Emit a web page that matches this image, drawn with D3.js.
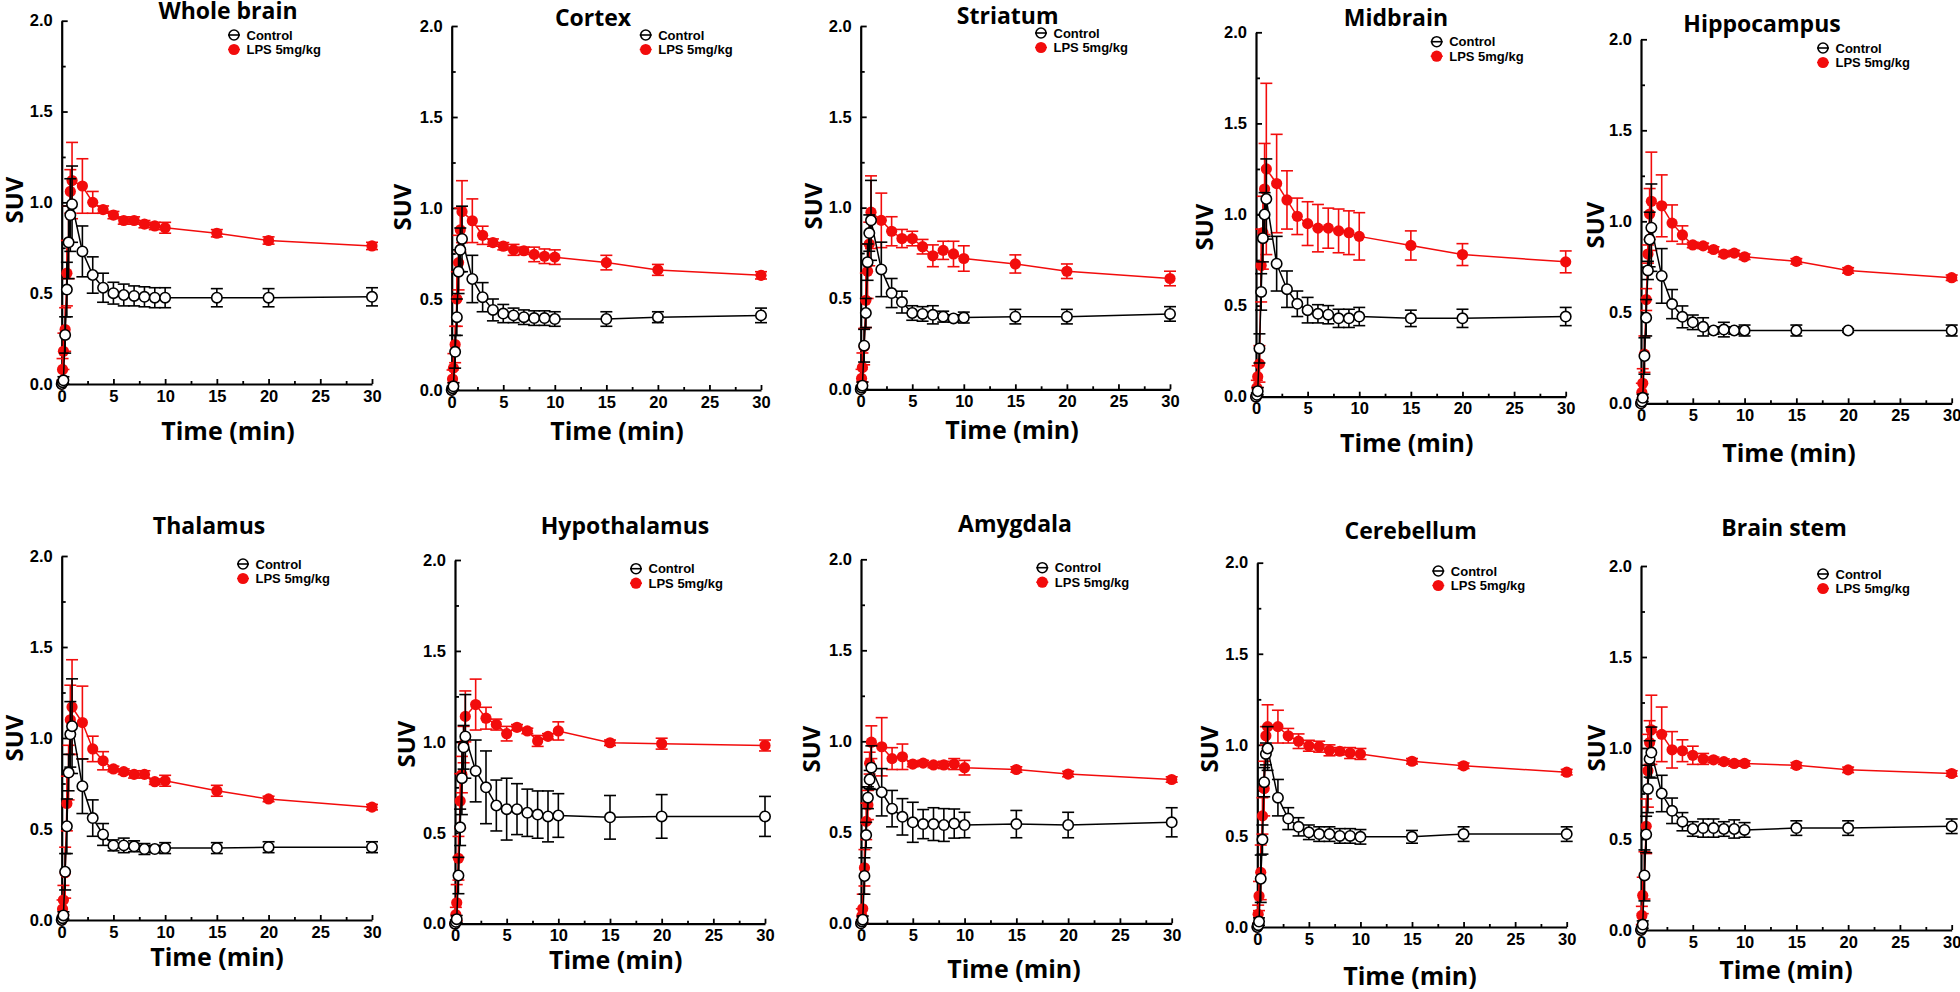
<!DOCTYPE html>
<html>
<head>
<meta charset="utf-8">
<script src="https://cdnjs.cloudflare.com/ajax/libs/d3/7.8.5/d3.min.js"></script>
<style>
body { margin: 0; background: #fff; }
svg { display: block; }
.tick text { font-family: "Liberation Sans", Arial, sans-serif; font-weight: bold; font-size: 16.5px; fill: #000; }
</style>
</head>
<body>
<svg id="fig" width="1960" height="992"></svg>
<script>

// sampling times (min)
var times = [0, 0.083, 0.167, 0.333, 0.5, 0.667, 0.833, 1, 2, 3, 4, 5, 6, 7, 8, 9, 10, 15, 20, 30];

var regions = ["Whole brain", "Cortex", "Striatum", "Midbrain", "Hippocampus",
	"Thalamus", "Hypothalamus", "Amygdala", "Cerebellum", "Brain stem"];

var xTicks = [0, 5, 10, 15, 20, 25, 30];
var xMinor = [2.5, 7.5, 12.5, 17.5, 22.5, 27.5];
var yTicks = [0, 0.5, 1.0, 1.5, 2.0];
var yMinor = [0.25, 0.75, 1.25, 1.75];

var seriesNames = ["Control", "LPS 5mg/kg"];

// mean SUV and SD
var wholeBrainCtrl   = [0, 0.01, 0.02, 0.27, 0.52, 0.78, 0.93, 0.99, 0.73, 0.60, 0.53, 0.50, 0.49, 0.485, 0.48, 0.475, 0.475, 0.475, 0.475, 0.48];
var wholeBrainCtrlSd = [0, 0.01, 0.02, 0.10, 0.15, 0.20, 0.20, 0.21, 0.14, 0.10, 0.08, 0.06, 0.06, 0.055, 0.055, 0.055, 0.055, 0.05, 0.05, 0.05];
var wholeBrainLps    = [0, 0.08, 0.18, 0.30, 0.61, 0.78, 1.06, 1.12, 1.09, 1.00, 0.96, 0.93, 0.90, 0.90, 0.88, 0.87, 0.86, 0.83, 0.79, 0.76];
var wholeBrainLpsSd  = [0, 0.06, 0.10, 0.12, 0.18, 0.20, 0.12, 0.21, 0.15, 0.06, 0.02, 0.02, 0.02, 0.02, 0.02, 0.02, 0.03, 0.02, 0.02, 0.02];

var cortexCtrl   = [0, 0.01, 0.02, 0.21, 0.40, 0.65, 0.77, 0.83, 0.61, 0.51, 0.44, 0.42, 0.41, 0.40, 0.395, 0.395, 0.39, 0.39, 0.40, 0.41];
var cortexCtrlSd = [0, 0.01, 0.02, 0.09, 0.10, 0.12, 0.12, 0.18, 0.13, 0.08, 0.06, 0.05, 0.04, 0.04, 0.04, 0.04, 0.04, 0.04, 0.03, 0.04];
var cortexLps    = [0, 0.06, 0.12, 0.25, 0.50, 0.70, 0.88, 0.98, 0.93, 0.85, 0.81, 0.79, 0.77, 0.765, 0.745, 0.735, 0.73, 0.70, 0.66, 0.63];
var cortexLpsSd  = [0, 0.05, 0.08, 0.10, 0.15, 0.15, 0.12, 0.17, 0.12, 0.05, 0.02, 0.02, 0.03, 0.02, 0.04, 0.04, 0.04, 0.04, 0.03, 0.02];

var striatumCtrl   = [0, 0.01, 0.02, 0.24, 0.42, 0.70, 0.86, 0.93, 0.66, 0.53, 0.48, 0.42, 0.415, 0.41, 0.40, 0.39, 0.395, 0.40, 0.40, 0.415];
var striatumCtrlSd = [0, 0.01, 0.02, 0.09, 0.08, 0.10, 0.10, 0.22, 0.15, 0.08, 0.06, 0.04, 0.04, 0.05, 0.03, 0.02, 0.03, 0.04, 0.04, 0.04];
var striatumLps    = [0, 0.06, 0.12, 0.235, 0.49, 0.65, 0.80, 0.975, 0.93, 0.87, 0.83, 0.83, 0.785, 0.735, 0.765, 0.745, 0.72, 0.69, 0.65, 0.61];
var striatumLpsSd  = [0, 0.05, 0.08, 0.10, 0.15, 0.15, 0.12, 0.20, 0.15, 0.08, 0.05, 0.04, 0.04, 0.06, 0.05, 0.07, 0.07, 0.05, 0.04, 0.04];

var midbrainCtrl   = [0, 0.01, 0.03, 0.265, 0.575, 0.87, 1.00, 1.085, 0.73, 0.59, 0.51, 0.475, 0.455, 0.45, 0.43, 0.43, 0.44, 0.43, 0.43, 0.44];
var midbrainCtrlSd = [0, 0.01, 0.02, 0.08, 0.10, 0.13, 0.12, 0.22, 0.15, 0.10, 0.07, 0.07, 0.05, 0.05, 0.05, 0.05, 0.05, 0.045, 0.05, 0.05];
var midbrainLps    = [0, 0.05, 0.11, 0.18, 0.72, 0.90, 1.14, 1.25, 1.17, 1.08, 0.99, 0.95, 0.925, 0.925, 0.91, 0.90, 0.88, 0.83, 0.78, 0.74];
var midbrainLpsSd  = [0, 0.04, 0.06, 0.10, 0.20, 0.20, 0.25, 0.47, 0.27, 0.16, 0.10, 0.12, 0.13, 0.11, 0.12, 0.12, 0.13, 0.08, 0.06, 0.06];

var hippocampusCtrl   = [0, 0.01, 0.03, 0.26, 0.47, 0.73, 0.90, 0.965, 0.70, 0.545, 0.475, 0.445, 0.42, 0.40, 0.405, 0.40, 0.40, 0.40, 0.40, 0.40];
var hippocampusCtrlSd = [0, 0.01, 0.02, 0.10, 0.10, 0.05, 0.15, 0.24, 0.15, 0.08, 0.06, 0.04, 0.05, 0.02, 0.04, 0.02, 0.03, 0.03, 0.01, 0.03];
var hippocampusLps    = [0, 0.06, 0.11, 0.27, 0.57, 0.82, 1.04, 1.11, 1.085, 0.99, 0.925, 0.87, 0.865, 0.845, 0.82, 0.825, 0.805, 0.78, 0.73, 0.69];
var hippocampusLpsSd  = [0, 0.05, 0.08, 0.10, 0.06, 0.05, 0.14, 0.27, 0.17, 0.10, 0.05, 0.015, 0.015, 0.015, 0.015, 0.015, 0.015, 0.015, 0.015, 0.015];

var thalamusCtrl   = [0, 0.01, 0.025, 0.265, 0.515, 0.81, 1.02, 1.065, 0.735, 0.56, 0.47, 0.41, 0.41, 0.405, 0.39, 0.39, 0.395, 0.395, 0.40, 0.40];
var thalamusCtrlSd = [0, 0.01, 0.02, 0.10, 0.15, 0.10, 0.18, 0.26, 0.15, 0.10, 0.06, 0.03, 0.04, 0.03, 0.03, 0.02, 0.03, 0.03, 0.03, 0.03];
var thalamusLps    = [0, 0.06, 0.11, 0.26, 0.64, 0.81, 1.10, 1.17, 1.085, 0.94, 0.875, 0.83, 0.815, 0.80, 0.80, 0.76, 0.765, 0.71, 0.665, 0.62];
var thalamusLpsSd  = [0, 0.05, 0.08, 0.14, 0.15, 0.15, 0.19, 0.26, 0.20, 0.07, 0.05, 0.015, 0.015, 0.02, 0.02, 0.015, 0.03, 0.03, 0.015, 0.015];

var hypothalamusCtrl   = [0, 0.01, 0.025, 0.265, 0.53, 0.80, 0.97, 1.03, 0.84, 0.75, 0.65, 0.63, 0.63, 0.61, 0.60, 0.59, 0.595, 0.585, 0.59, 0.59];
var hypothalamusCtrlSd = [0, 0.01, 0.02, 0.10, 0.10, 0.20, 0.12, 0.23, 0.17, 0.20, 0.14, 0.17, 0.14, 0.13, 0.13, 0.14, 0.12, 0.12, 0.12, 0.11];
var hypothalamusLps    = [0, 0.05, 0.115, 0.36, 0.675, 0.82, 0.985, 1.14, 1.205, 1.13, 1.095, 1.045, 1.08, 1.06, 1.005, 1.03, 1.06, 0.995, 0.99, 0.98];
var hypothalamusLpsSd  = [0, 0.04, 0.10, 0.12, 0.15, 0.10, 0.10, 0.14, 0.14, 0.06, 0.03, 0.04, 0.015, 0.015, 0.03, 0.015, 0.05, 0.015, 0.03, 0.03];

var amygdalaCtrl   = [0, 0.01, 0.02, 0.26, 0.485, 0.69, 0.79, 0.855, 0.72, 0.63, 0.585, 0.555, 0.545, 0.545, 0.54, 0.548, 0.54, 0.545, 0.54, 0.555];
var amygdalaCtrlSd = [0, 0.01, 0.02, 0.10, 0.07, 0.06, 0.05, 0.12, 0.13, 0.10, 0.10, 0.11, 0.08, 0.09, 0.09, 0.08, 0.07, 0.075, 0.07, 0.08];
var amygdalaLps    = [0, 0.04, 0.08, 0.305, 0.56, 0.65, 0.88, 0.995, 0.97, 0.905, 0.915, 0.875, 0.88, 0.87, 0.87, 0.875, 0.855, 0.845, 0.82, 0.79];
var amygdalaLpsSd  = [0, 0.04, 0.08, 0.10, 0.10, 0.08, 0.06, 0.09, 0.16, 0.06, 0.07, 0.015, 0.015, 0.015, 0.02, 0.03, 0.04, 0.015, 0.015, 0.015];

var cerebellumCtrl   = [0, 0.01, 0.03, 0.265, 0.48, 0.795, 0.95, 0.98, 0.71, 0.595, 0.55, 0.52, 0.51, 0.51, 0.50, 0.50, 0.495, 0.495, 0.51, 0.51];
var cerebellumCtrlSd = [0, 0.01, 0.02, 0.13, 0.08, 0.08, 0.06, 0.12, 0.10, 0.06, 0.05, 0.04, 0.04, 0.04, 0.04, 0.04, 0.04, 0.035, 0.04, 0.04];
var cerebellumLps    = [0, 0.07, 0.17, 0.30, 0.61, 0.76, 1.05, 1.10, 1.10, 1.05, 1.02, 0.995, 0.99, 0.97, 0.965, 0.955, 0.95, 0.91, 0.885, 0.85];
var cerebellumLpsSd  = [0, 0.05, 0.08, 0.15, 0.10, 0.15, 0.05, 0.12, 0.09, 0.04, 0.04, 0.03, 0.03, 0.03, 0.02, 0.03, 0.03, 0.015, 0.015, 0.015];

var brainStemCtrl   = [0, 0.01, 0.03, 0.30, 0.525, 0.775, 0.94, 0.975, 0.75, 0.655, 0.595, 0.555, 0.56, 0.56, 0.555, 0.555, 0.55, 0.56, 0.56, 0.57];
var brainStemCtrlSd = [0, 0.01, 0.02, 0.14, 0.10, 0.13, 0.10, 0.14, 0.10, 0.07, 0.05, 0.04, 0.05, 0.05, 0.04, 0.05, 0.04, 0.04, 0.04, 0.04];
var brainStemLps    = [0, 0.08, 0.19, 0.30, 0.57, 0.875, 1.03, 1.10, 1.075, 0.99, 0.985, 0.96, 0.94, 0.935, 0.925, 0.915, 0.915, 0.905, 0.88, 0.86];
var brainStemLpsSd  = [0, 0.05, 0.10, 0.13, 0.15, 0.20, 0.12, 0.19, 0.15, 0.10, 0.06, 0.05, 0.03, 0.015, 0.015, 0.015, 0.015, 0.015, 0.015, 0.015];

var ctrlMeans = [wholeBrainCtrl, cortexCtrl, striatumCtrl, midbrainCtrl, hippocampusCtrl,
	thalamusCtrl, hypothalamusCtrl, amygdalaCtrl, cerebellumCtrl, brainStemCtrl];
var ctrlSds = [wholeBrainCtrlSd, cortexCtrlSd, striatumCtrlSd, midbrainCtrlSd, hippocampusCtrlSd,
	thalamusCtrlSd, hypothalamusCtrlSd, amygdalaCtrlSd, cerebellumCtrlSd, brainStemCtrlSd];
var lpsMeans = [wholeBrainLps, cortexLps, striatumLps, midbrainLps, hippocampusLps,
	thalamusLps, hypothalamusLps, amygdalaLps, cerebellumLps, brainStemLps];
var lpsSds = [wholeBrainLpsSd, cortexLpsSd, striatumLpsSd, midbrainLpsSd, hippocampusLpsSd,
	thalamusLpsSd, hypothalamusLpsSd, amygdalaLpsSd, cerebellumLpsSd, brainStemLpsSd];

// panel placement: plot box (left, right, top, bottom), title, legend, x label, y label
var panels = [
	{l: 61.7, r: 372, t: 20.7, b: 384, tx: 228, ty: 19, lx: 234, ly: 35, xx: 228, xy: 440, sx: 13.5, sy: 200},
	{l: 451.7, r: 761, t: 26, b: 390, tx: 593, ty: 26, lx: 645.7, ly: 35, xx: 617, xy: 440, sx: 401, sy: 207},
	{l: 860.7, r: 1170, t: 26, b: 389.3, tx: 1007.7, ty: 24, lx: 1041, ly: 33, xx: 1012, xy: 439.3, sx: 812, sy: 206},
	{l: 1256, r: 1565.7, t: 32.3, b: 396.7, tx: 1396, ty: 26, lx: 1436.7, ly: 41.7, xx: 1406.7, xy: 451.7, sx: 1203, sy: 227},
	{l: 1641, r: 1951.7, t: 39.3, b: 403.3, tx: 1762, ty: 31.7, lx: 1823, ly: 48, xx: 1789, xy: 461.7, sx: 1594, sy: 225},
	{l: 61.7, r: 372, t: 556, b: 920, tx: 209, ty: 534.3, lx: 243, ly: 564, xx: 217, xy: 966, sx: 13, sy: 738},
	{l: 455, r: 765, t: 560, b: 923.7, tx: 625, ty: 534, lx: 636, ly: 568.7, xx: 615.7, xy: 969.3, sx: 405, sy: 744},
	{l: 861, r: 1171.7, t: 559.3, b: 923.3, tx: 1015, ty: 532, lx: 1042.3, ly: 567.7, xx: 1014, xy: 977.7, sx: 810, sy: 749},
	{l: 1257.3, r: 1566.7, t: 562.7, b: 927, tx: 1410.7, ty: 538.7, lx: 1438.3, ly: 571, xx: 1410, xy: 985.3, sx: 1208, sy: 749},
	{l: 1641, r: 1951.7, t: 566, b: 930, tx: 1784, ty: 536, lx: 1823, ly: 574, xx: 1786, xy: 979.3, sx: 1595, sy: 748}
];

var red = "#f20c0c";
var labelFont = "'Open Sans', 'DejaVu Sans', sans-serif";
var legendFont = "'Liberation Sans', Arial, sans-serif";

var svg = d3.select("#fig");

function drawSeries(g, x, y, means, sds, color, open) {
	var pts = times.map(function(t, i) { return {t: t, v: means[i], e: sds[i]}; });

	var eb = g.append("g").attr("stroke", color).attr("stroke-width", 1.6).attr("fill", "none");
	pts.forEach(function(d) {
		if (d.e <= 0) return;
		var cx = x(d.t), y1 = y(d.v + d.e), y2 = y(d.v - d.e);
		eb.append("line").attr("x1", cx).attr("x2", cx).attr("y1", y1).attr("y2", y2);
		eb.append("line").attr("x1", cx - 6).attr("x2", cx + 6).attr("y1", y1).attr("y2", y1);
		eb.append("line").attr("x1", cx - 6).attr("x2", cx + 6).attr("y1", y2).attr("y2", y2);
	});

	g.append("path")
		.datum(pts)
		.attr("fill", "none")
		.attr("stroke", color)
		.attr("stroke-width", 1.5)
		.attr("d", d3.line().x(function(d) { return x(d.t); }).y(function(d) { return y(d.v); }));

	g.selectAll(null)
		.data(pts)
		.enter()
		.append("circle")
		.attr("cx", function(d) { return x(d.t); })
		.attr("cy", function(d) { return y(d.v); })
		.attr("r", open ? 5.2 : 5.6)
		.attr("fill", open ? "#fff" : color)
		.attr("stroke", color)
		.attr("stroke-width", open ? 1.6 : 0);
}

panels.forEach(function(p, k) {
	var x = d3.scaleLinear().domain([0, 30]).range([p.l, p.r]);
	var y = d3.scaleLinear().domain([0, 2]).range([p.b, p.t]);
	var g = svg.append("g");

	// axes with inward ticks
	g.append("g")
		.attr("transform", "translate(0," + p.b + ")")
		.call(d3.axisBottom(x).tickValues(xMinor).tickFormat("").tickSize(-3).tickSizeOuter(0))
		.call(function(a) { a.select(".domain").remove(); });
	g.append("g")
		.attr("transform", "translate(" + p.l + ",0)")
		.call(d3.axisLeft(y).tickValues(yMinor).tickFormat("").tickSize(-4).tickSizeOuter(0))
		.call(function(a) { a.select(".domain").remove(); });

	g.append("g")
		.attr("transform", "translate(0," + p.b + ")")
		.call(d3.axisBottom(x).tickValues(xTicks).tickFormat(d3.format("d")).tickSize(-5).tickSizeOuter(0).tickPadding(6));
	g.append("g")
		.attr("transform", "translate(" + p.l + ",0)")
		.call(d3.axisLeft(y).tickValues(yTicks).tickFormat(d3.format(".1f")).tickSize(-6).tickSizeOuter(0).tickPadding(9));

	g.selectAll(".domain").attr("stroke", "#000").attr("stroke-width", 2.2);
	g.selectAll(".tick line").attr("stroke", "#000").attr("stroke-width", 1.8);

	// data
	var plot = g.append("g");
	drawSeries(plot, x, y, lpsMeans[k], lpsSds[k], red, false);
	drawSeries(plot, x, y, ctrlMeans[k], ctrlSds[k], "#000", true);

	// title and axis labels
	g.append("text")
		.attr("x", p.tx).attr("y", p.ty)
		.attr("text-anchor", "middle")
		.attr("font-family", labelFont).attr("font-weight", "bold").attr("font-size", "23px")
		.text(regions[k]);

	g.append("text")
		.attr("x", p.xx).attr("y", p.xy)
		.attr("text-anchor", "middle")
		.attr("font-family", labelFont).attr("font-weight", "bold").attr("font-size", "25px")
		.text("Time (min)");

	g.append("text")
		.attr("transform", "translate(" + p.sx + "," + p.sy + ") rotate(-90)")
		.attr("text-anchor", "middle")
		.attr("dominant-baseline", "central")
		.attr("font-family", labelFont).attr("font-weight", "bold").attr("font-size", "24px")
		.text("SUV");

	// legend
	var leg = g.append("g").attr("font-family", legendFont).attr("font-weight", "bold").attr("font-size", "13px");
	seriesNames.forEach(function(name, j) {
		var ly = p.ly + j * 14.5;
		var col = j === 0 ? "#000" : red;
		leg.append("line")
			.attr("x1", p.lx - 6).attr("x2", p.lx + 6).attr("y1", ly).attr("y2", ly)
			.attr("stroke", col).attr("stroke-width", 1.6);
		leg.append("circle")
			.attr("cx", p.lx).attr("cy", ly).attr("r", j === 0 ? 5 : 5.6)
			.attr("fill", j === 0 ? "none" : col)
			.attr("stroke", col).attr("stroke-width", j === 0 ? 1.6 : 0);
		leg.append("text")
			.attr("x", p.lx + 12.5).attr("y", ly)
			.attr("dominant-baseline", "central")
			.text(name);
	});
});

</script>
</body>
</html>
